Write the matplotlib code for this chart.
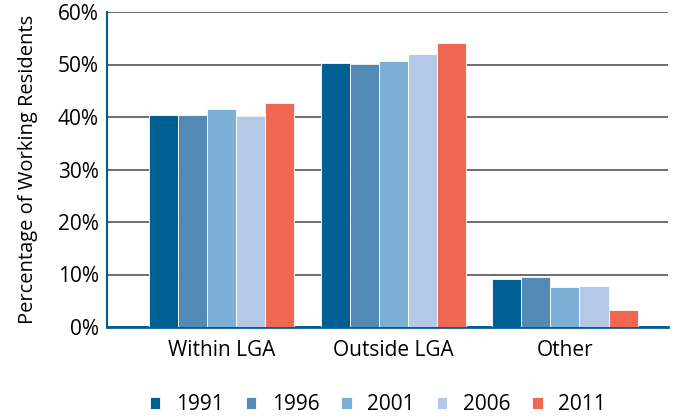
import matplotlib.pyplot as plt
import numpy as np

plt.rcParams['font.family'] = ['Open Sans', 'DejaVu Sans']

categories = ["Within LGA", "Outside LGA", "Other"]
years = ["1991", "1996", "2001", "2006", "2011"]
values = {
    "1991": [40.4, 50.3, 9.1],
    "1996": [40.4, 50.1, 9.5],
    "2001": [41.6, 50.7, 7.6],
    "2006": [40.1, 52.0, 7.9],
    "2011": [42.6, 54.1, 3.2],
}
colors = ["#005f92", "#5289b5", "#7bafd6", "#b3c9e7", "#f06852"]
yticks = [0, 10, 20, 30, 40, 50, 60]

fig = plt.figure(figsize=(6.75, 4.18), dpi=100)
ax = fig.add_axes([107 / 675, 1 - 327 / 418, (668 - 107) / 675, (327 - 12) / 418])

x = np.arange(len(categories))
w = 0.169
for i, (yr, c) in enumerate(zip(years, colors)):
    ax.bar(x + (i - 2) * w, values[yr], width=w, color=c, label=yr,
           edgecolor="white", linewidth=0.6, zorder=3)

ax.set_ylim(0, 60)
ax.set_xlim(-0.667, 2.6)
ax.set_yticks(yticks)
ax.set_yticklabels([f"{t}%" for t in yticks], fontsize=15)
ax.set_xticks(x)
ax.set_xticklabels(categories, fontsize=15)
ax.tick_params(axis="both", length=0, pad=6)
ax.tick_params(axis="x", pad=9)
ax.grid(axis="y", color="#555555", linewidth=1.2, zorder=0)
for s in ["top", "right"]:
    ax.spines[s].set_visible(False)
ax.spines["left"].set_color("#005f92")
ax.spines["left"].set_linewidth(1.5)
ax.spines["bottom"].set_color("#005f92")
ax.spines["bottom"].set_linewidth(2)
ax.set_ylabel("Percentage of Working Residents", fontsize=14.5, labelpad=14)

ax.legend(loc="center", bbox_to_anchor=((378 - 107) / 561, -78 / 315), ncol=5,
          frameon=False, fontsize=15, handlelength=0.5, handleheight=0.5,
          columnspacing=1.05, handletextpad=0.75)

fig.savefig("out.png", dpi=100)
